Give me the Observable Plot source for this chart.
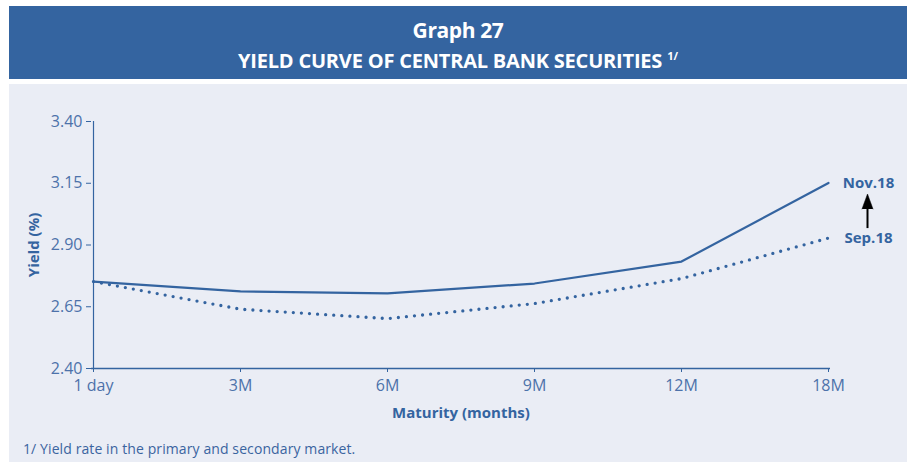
<!DOCTYPE html>
<html>
<head>
<meta charset="utf-8">
<script src="https://cdn.jsdelivr.net/npm/d3@7"></script>
<script src="https://cdn.jsdelivr.net/npm/@observablehq/plot@0.6"></script>
<style>
  html, body { margin: 0; padding: 0; background: #ffffff; }
  #wrap { position: relative; width: 907px; height: 462px; overflow: hidden; font-family: "Open Sans", sans-serif; }
  #header { position: absolute; left: 9px; top: 6px; width: 898px; height: 73px; background: #3464a0; color: #fff; text-align: center; font-weight: bold; }
  #header .l1 { position: absolute; left: 0; right: 0; top: 11px; font-size: 21px; line-height: 26px; letter-spacing: -0.4px; }
  #header .l2 { position: absolute; left: 0; right: 0; top: 37px; font-size: 20px; line-height: 26px; letter-spacing: -0.2px; }
  #header sup { font-size: 11px; vertical-align: 8px; margin-left: 5px; letter-spacing: 0; }
  #panel { position: absolute; left: 9px; top: 84px; width: 898px; height: 378px; background: #eaedf5; }
  #note { position: absolute; left: 14px; top: 355px; font-size: 14px; color: #3a64a0; line-height: 19px; letter-spacing: 0.1px; }
</style>
</head>
<body>
<div id="wrap">
  <div id="header">
    <div class="l1">Graph 27</div>
    <div class="l2">YIELD CURVE OF CENTRAL BANK SECURITIES<sup>1/</sup></div>
  </div>
  <div id="panel">
    <div id="chart"></div>
    <div id="note">1/ Yield rate in the primary and secondary market.</div>
  </div>
</div>
<script>
const maturities = ["1 day", "3M", "6M", "9M", "12M", "18M"];
const nov18 = [2.752, 2.712, 2.704, 2.744, 2.833, 3.151];
const sep18 = [2.752, 2.640, 2.602, 2.663, 2.764, 2.928];
const yTicks = [2.40, 2.65, 2.90, 3.15, 3.40];
const seriesNames = ["Nov.18", "Sep.18"];

const blue = "#3464a0";
const tickBlue = "#4d72aa";

const novData = maturities.map((m, i) => ({m, v: nov18[i]}));
const sepData = maturities.map((m, i) => ({m, v: sep18[i]}));
const last = maturities.length - 1;
const labelData = [
  {m: maturities[last], v: nov18[last], name: seriesNames[0]},
  {m: maturities[last], v: sep18[last], name: seriesNames[1]}
];
const arrowData = [{m: maturities[last], top: nov18[last], bottom: sep18[last]}];

const chart = Plot.plot({
  width: 898,
  height: 378,
  marginLeft: 82,
  marginRight: 77,
  marginTop: 37,
  marginBottom: 94,
  style: {background: "transparent", fontFamily: "Open Sans, sans-serif", overflow: "visible"},
  x: {type: "point", domain: maturities, padding: 0, label: null},
  y: {domain: [2.40, 3.40], label: null},
  marks: [
    Plot.axisY({ticks: yTicks, tickFormat: d3.format(".2f"), tickSize: 5, tickPadding: 4,
      stroke: blue, color: tickBlue, fontSize: 16, label: null}),
    Plot.axisX({tickSize: 4, tickPadding: 7, stroke: blue, color: tickBlue, fontSize: 16, label: null}),
    Plot.ruleX([maturities[0]], {stroke: blue, strokeWidth: 1.2}),
    Plot.ruleY([2.40], {stroke: blue, strokeWidth: 1.6}),
    Plot.line(sepData, {x: "m", y: "v", stroke: blue, strokeWidth: 3.3,
      strokeDasharray: "0,8.1", strokeLinecap: "round"}),
    Plot.line(novData, {x: "m", y: "v", stroke: blue, strokeWidth: 2.2}),
    Plot.text(labelData, {x: "m", y: "v", text: "name", dx: 40, fill: blue,
      fontWeight: "bold", fontSize: 15, textAnchor: "middle"}),
    Plot.ruleX(arrowData, {x: "m", y1: "top", y2: "bottom", dx: 39, stroke: "#000",
      strokeWidth: 2, insetTop: 22, insetBottom: 9.5}),
    Plot.vector(arrowData, {x: "m", y: "top", dx: 39, dy: 26, length: 15, r: 5.5,
      shape: "spike", anchor: "start", fill: "#000", stroke: "#000", strokeWidth: 0.5}),
    Plot.text(["Maturity (months)"], {frameAnchor: "bottom", dy: 49, fill: blue,
      fontWeight: "bold", fontSize: 15, text: d => d}),
    Plot.text(["Yield (%)"], {frameAnchor: "left", dx: -57, rotate: -90, fill: blue,
      textAnchor: "middle", fontWeight: "bold", fontSize: 15, text: d => d})
  ]
});
document.getElementById("chart").appendChild(chart);
</script>
</body>
</html>
